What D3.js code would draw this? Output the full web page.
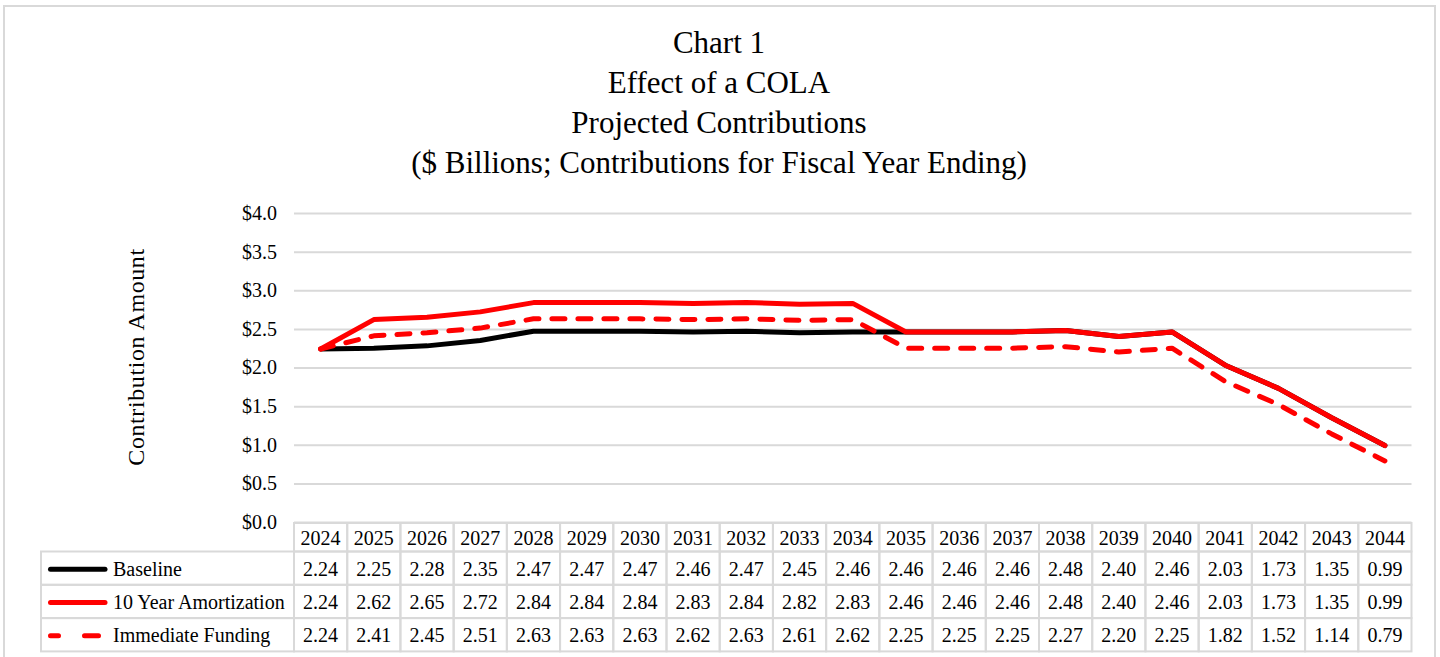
<!DOCTYPE html>
<html>
<head>
<meta charset="utf-8">
<script src="https://cdn.jsdelivr.net/npm/d3@7"></script>
<style>
  html, body { margin: 0; padding: 0; background: #fff; }
  svg { display: block; font-family: "Liberation Serif", "Times New Roman", serif; }
</style>
</head>
<body>
<svg id="chart" width="1440" height="657"></svg>
<script>
const titleLines = ["Chart 1", "Effect of a COLA", "Projected Contributions", "($ Billions; Contributions for Fiscal Year Ending)"];
const years = ["2024","2025","2026","2027","2028","2029","2030","2031","2032","2033","2034","2035","2036","2037","2038","2039","2040","2041","2042","2043","2044"];
const baseline =      [2.24,2.25,2.28,2.35,2.47,2.47,2.47,2.46,2.47,2.45,2.46,2.46,2.46,2.46,2.48,2.40,2.46,2.03,1.73,1.35,0.99];
const amortization10 = [2.24,2.62,2.65,2.72,2.84,2.84,2.84,2.83,2.84,2.82,2.83,2.46,2.46,2.46,2.48,2.40,2.46,2.03,1.73,1.35,0.99];
const immediate =     [2.24,2.41,2.45,2.51,2.63,2.63,2.63,2.62,2.63,2.61,2.62,2.25,2.25,2.25,2.27,2.20,2.25,1.82,1.52,1.14,0.79];
const seriesNames = ["Baseline", "10 Year Amortization", "Immediate Funding"];
const yTicks = [0, 0.5, 1.0, 1.5, 2.0, 2.5, 3.0, 3.5, 4.0];
const yTitle = "Contribution Amount";

const series = [
  { name: seriesNames[0], values: baseline, color: "#000000", dash: null, keyDash: null },
  { name: seriesNames[1], values: amortization10, color: "#ff0000", dash: null, keyDash: null },
  { name: seriesNames[2], values: immediate, color: "#ff0000", dash: "13,13", keyDash: "8,26,14,100" }
];

const svg = d3.select("#chart");
const gridColor = "#d9d9d9";

// outer border
svg.append("rect").attr("x", 4).attr("y", 6).attr("width", 1431).attr("height", 660)
  .attr("fill", "none").attr("stroke", gridColor).attr("stroke-width", 2);

// title
svg.append("g").selectAll("text").data(titleLines).join("text")
  .attr("x", 719).attr("y", (d, i) => 53 + i * 40)
  .attr("text-anchor", "middle").attr("font-size", 31).attr("fill", "#000")
  .text(d => d);

const plotLeft = 294, plotRight = 1411.5, plotTop = 213, plotBottom = 522;
const x = d3.scaleBand().domain(years).range([plotLeft, plotRight]);
const y = d3.scaleLinear().domain([0, 4]).range([plotBottom, plotTop]);

// y axis with gridlines
const yAxis = d3.axisLeft(y).tickValues(yTicks).tickFormat(d => "$" + d.toFixed(1))
  .tickSize(-(plotRight - plotLeft)).tickPadding(17);
const gy = svg.append("g").attr("transform", `translate(${plotLeft},0)`).call(yAxis);
gy.select(".domain").remove();
gy.selectAll(".tick line").attr("stroke", gridColor).attr("stroke-width", 2);
gy.selectAll(".tick text").attr("font-size", 20).attr("fill", "#000")
  .attr("font-family", "Liberation Serif, Times New Roman, serif");

// y title
svg.append("text").attr("transform", "translate(144,357) rotate(-90)")
  .attr("text-anchor", "middle").attr("font-size", 24).attr("fill", "#000")
  .attr("letter-spacing", 0.6).text(yTitle);

// lines
const line = d3.line().x((d, i) => x(years[i]) + x.bandwidth() / 2).y(d => y(d));
svg.append("g").selectAll("path").data(series).join("path")
  .attr("d", d => line(d.values))
  .attr("fill", "none").attr("stroke", d => d.color).attr("stroke-width", 5)
  .attr("stroke-linejoin", "round").attr("stroke-linecap", "round")
  .attr("stroke-dasharray", d => d.dash);

// data table
const headTop = 523, headBottom = 551.5, rowH = 33.3, legendLeft = 41;
const tbl = svg.append("g");
tbl.selectAll("rect.head").data(years).join("rect").attr("class", "head")
  .attr("x", d => x(d)).attr("y", headTop).attr("width", x.bandwidth()).attr("height", headBottom - headTop)
  .attr("fill", "none").attr("stroke", gridColor).attr("stroke-width", 2);
tbl.selectAll("text.head").data(years).join("text").attr("class", "head")
  .attr("x", d => x(d) + x.bandwidth() / 2).attr("y", headTop + 22)
  .attr("text-anchor", "middle").attr("font-size", 20).attr("fill", "#000").text(d => d);

series.forEach((s, r) => {
  const top = headBottom + r * rowH;
  const g = tbl.append("g");
  g.append("rect").attr("x", legendLeft).attr("y", top).attr("width", plotLeft - legendLeft).attr("height", rowH)
    .attr("fill", "none").attr("stroke", gridColor).attr("stroke-width", 2);
  g.selectAll("rect.cell").data(s.values).join("rect").attr("class", "cell")
    .attr("x", (d, i) => x(years[i])).attr("y", top).attr("width", x.bandwidth()).attr("height", rowH)
    .attr("fill", "none").attr("stroke", gridColor).attr("stroke-width", 2);
  g.selectAll("text.cell").data(s.values).join("text").attr("class", "cell")
    .attr("x", (d, i) => x(years[i]) + x.bandwidth() / 2).attr("y", top + 24)
    .attr("text-anchor", "middle").attr("font-size", 20).attr("fill", "#000").text(d => d.toFixed(2));
  // legend key
  g.append("line").attr("x1", 50.5).attr("x2", 105).attr("y1", top + rowH / 2 + 1).attr("y2", top + rowH / 2 + 1)
    .attr("stroke", s.color).attr("stroke-width", 5).attr("stroke-linecap", "round")
    .attr("stroke-dasharray", s.keyDash);
  g.append("text").attr("x", 113).attr("y", top + 24).attr("font-size", 20).attr("fill", "#000").text(s.name);
});
</script>
</body>
</html>
